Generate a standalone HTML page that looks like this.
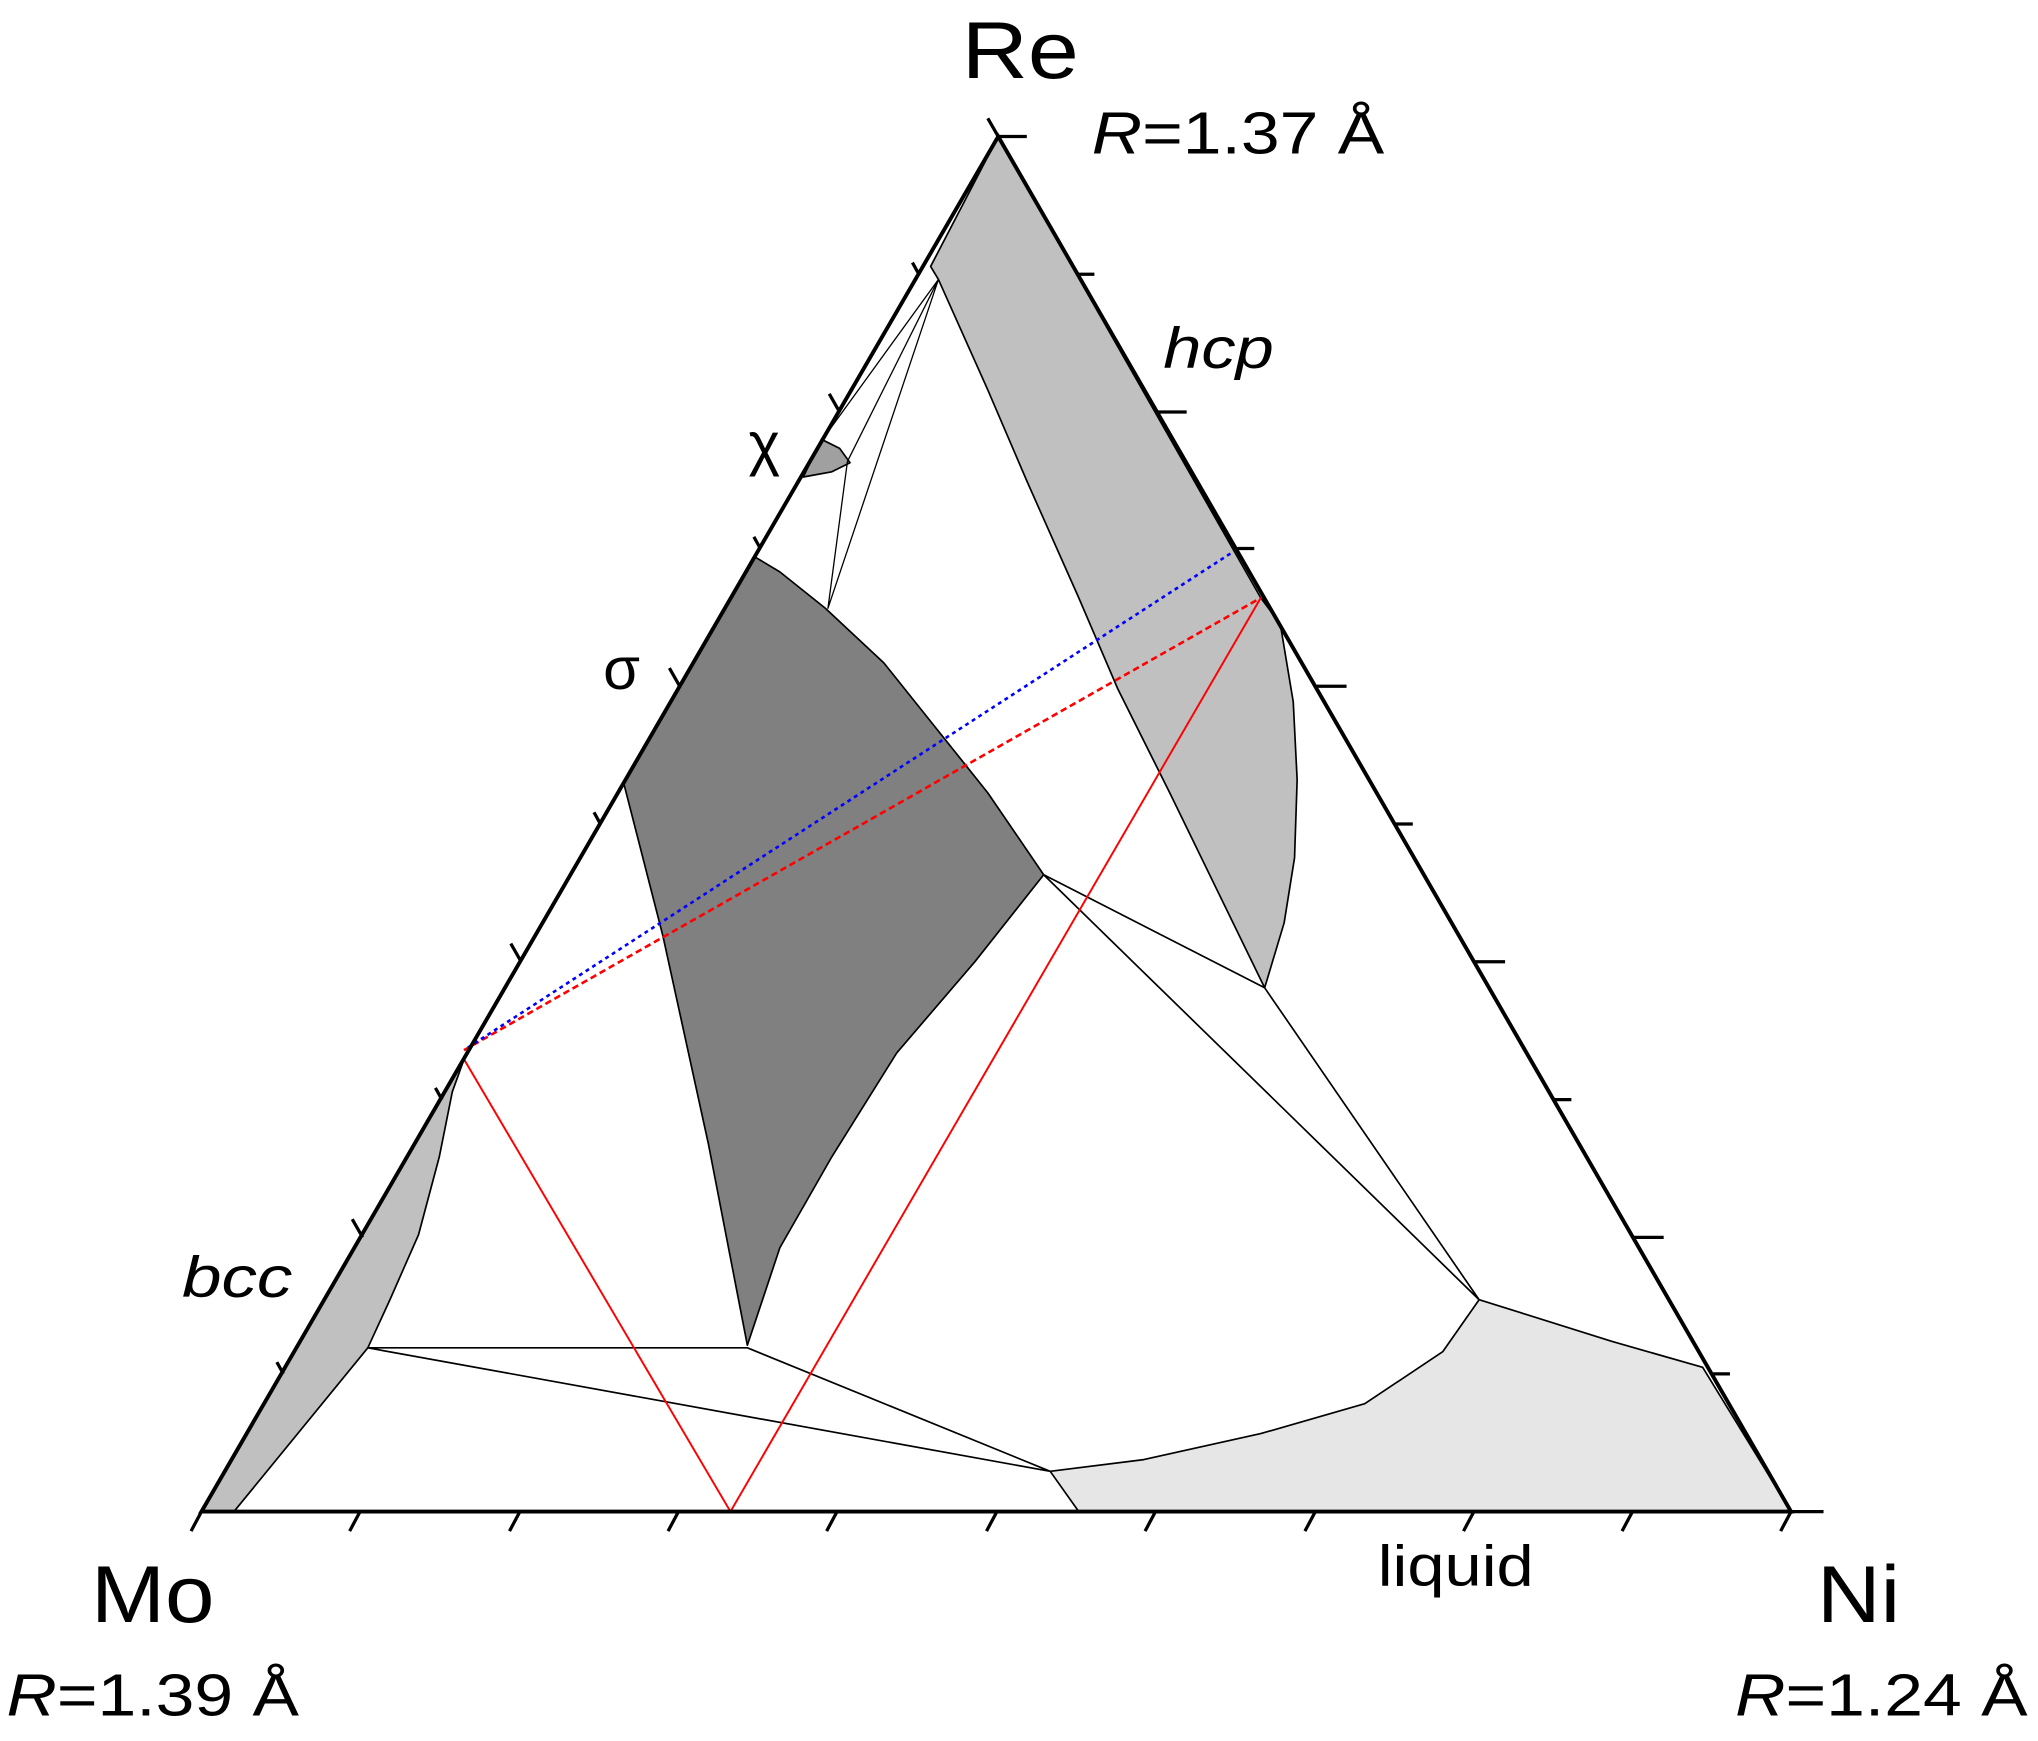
<!DOCTYPE html>
<html><head><style>html,body{margin:0;padding:0;background:#fff}svg{display:block}</style></head>
<body>
<svg width="2038" height="1741" viewBox="0 0 1568 1339.5" xmlns="http://www.w3.org/2000/svg" font-family="Liberation Sans, Arial, sans-serif">
<g stroke="#000" stroke-width="1.3" stroke-linejoin="round">
<polygon fill="#c0c0c0" points="768,105 970,460 985,480 995,540 998,600 996,660 988,710 973,760 900,610 860,530 830,460 790,370 760,300 722,215 716,205"/>
<polygon fill="#e6e6e6" points="1378,1163 1310,1052 1240,1032 1170,1010 1138,1000 1110,1040 1050,1080 970,1103 880,1123 808,1132 830,1163"/>
<polygon fill="#c0c0c0" points="155,1163 357,815 348,840 338,890 322,950 300,1000 283,1037 180,1163"/>
<polygon fill="#808080" points="580,428 480,603 510,720 545,880 575,1035 600,960 640,890 690,810 750,740 803,673 760,610 720,560 680,510 635,468 600,440"/>
<polygon fill="#a0a0a0" points="632,338 646,345 654,356 640,363 618,367"/>
<polyline fill="none" stroke-width="1" points="652,355 722,215 637,468 652,355"/>
<line x1="722" y1="215" x2="630" y2="342" stroke-width="1"/>
<polyline fill="none" points="283,1037 575,1037 808,1132 283,1037"/>
<polyline fill="none" points="803,673 973,760 1138,1000 803,673"/>
</g>
<polyline fill="none" stroke="#f00" stroke-width="1.5" points="357,815 562,1163 970,460"/>
<line x1="357" y1="808" x2="970" y2="460" stroke="#f00" stroke-width="2" stroke-dasharray="5,3"/>
<line x1="360" y1="806" x2="948" y2="425" stroke="#00f" stroke-width="2" stroke-dasharray="3,3"/>
<polygon points="155,1163 1378,1163 768,105" fill="none" stroke="#000" stroke-width="3"/>
<g stroke="#000" stroke-width="2.5">
<line x1="155" y1="1163" x2="147" y2="1178"/><line x1="277" y1="1163" x2="269" y2="1178"/><line x1="400" y1="1163" x2="392" y2="1178"/><line x1="522" y1="1163" x2="514" y2="1178"/><line x1="644" y1="1163" x2="636" y2="1178"/><line x1="767" y1="1163" x2="759" y2="1178"/><line x1="889" y1="1163" x2="881" y2="1178"/><line x1="1012" y1="1163" x2="1004" y2="1178"/><line x1="1134" y1="1163" x2="1126" y2="1178"/><line x1="1256" y1="1163" x2="1248" y2="1178"/><line x1="1378" y1="1163" x2="1403" y2="1163"/><line x1="1378" y1="1163" x2="1370" y2="1178"/>
<line x1="768" y1="105" x2="790" y2="105"/><line x1="829" y1="211" x2="842" y2="211"/><line x1="890" y1="317" x2="913" y2="317"/><line x1="952" y1="422" x2="965" y2="422"/><line x1="1013" y1="528" x2="1036" y2="528"/><line x1="1074" y1="634" x2="1087" y2="634"/><line x1="1135" y1="740" x2="1158" y2="740"/><line x1="1196" y1="846" x2="1209" y2="846"/><line x1="1257" y1="952" x2="1280" y2="952"/><line x1="1318" y1="1057" x2="1331" y2="1057"/>
<line x1="768" y1="105" x2="760" y2="91"/><line x1="707" y1="211" x2="702" y2="202"/><line x1="646" y1="317" x2="638" y2="303"/><line x1="585" y1="422" x2="580" y2="413"/><line x1="523" y1="528" x2="515" y2="514"/><line x1="462" y1="634" x2="457" y2="625"/><line x1="401" y1="740" x2="393" y2="726"/><line x1="340" y1="846" x2="335" y2="837"/><line x1="279" y1="952" x2="271" y2="938"/><line x1="218" y1="1057" x2="213" y2="1048"/>
</g>
<g fill="#000">
<text x="740" y="60" font-size="62" textLength="90" lengthAdjust="spacingAndGlyphs">Re</text>
<text x="840" y="118" font-size="46" textLength="225" lengthAdjust="spacingAndGlyphs"><tspan font-style="italic">R</tspan>=1.37 Å</text>
<text x="70" y="1248" font-size="62" textLength="95" lengthAdjust="spacingAndGlyphs">Mo</text>
<text x="5" y="1320" font-size="46" textLength="225" lengthAdjust="spacingAndGlyphs"><tspan font-style="italic">R</tspan>=1.39 Å</text>
<text x="1398" y="1248" font-size="62" textLength="64" lengthAdjust="spacingAndGlyphs">Ni</text>
<text x="1335" y="1320" font-size="46" textLength="225" lengthAdjust="spacingAndGlyphs"><tspan font-style="italic">R</tspan>=1.24 Å</text>
<text x="895" y="283" font-size="44" font-style="italic" textLength="85" lengthAdjust="spacingAndGlyphs">hcp</text>
<text x="576" y="357" font-size="46">χ</text>
<text x="464" y="530" font-size="46">σ</text>
<text x="140" y="998" font-size="44" font-style="italic" textLength="85" lengthAdjust="spacingAndGlyphs">bcc</text>
<text x="1060" y="1220" font-size="44" textLength="120" lengthAdjust="spacingAndGlyphs">liquid</text>
</g>
</svg>
</body></html>
